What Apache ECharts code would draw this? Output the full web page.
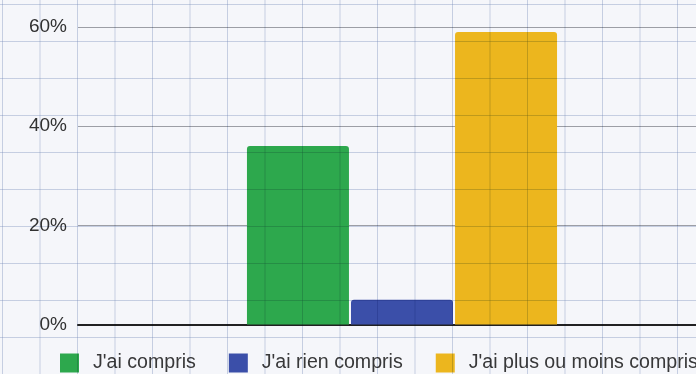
<!DOCTYPE html>
<html>
<head>
<meta charset="utf-8">
<script src="https://cdn.jsdelivr.net/npm/echarts@6/dist/echarts.min.js"></script>
<style>
  html, body { margin: 0; padding: 0; }
  body {
    width: 696px; height: 374px; overflow: hidden;
    background-color: #f5f6fa;
    /* squared paper */
    background-image:
      linear-gradient(to right, rgba(120, 140, 185, 0.38) 1px, transparent 1px),
      linear-gradient(to bottom, rgba(120, 140, 185, 0.38) 1px, transparent 1px);
    background-size: 37.5px 37px;
    background-position: 2px 4px;
  }
  /* the plot runs past the right edge of the page */
  #chart { width: 726px; height: 374px; mix-blend-mode: multiply; }
</style>
</head>
<body>
<div id="chart"></div>
<script>
// Survey answers, share of responses in percent
const categories = ['Réponses'];
const seriesNames = ["J'ai compris", "J'ai rien compris", "J'ai plus ou moins compris"];
const compris = [36];
const rienCompris = [5];
const plusOuMoins = [59];
const yTicks = [0, 20, 40, 60];

const colors = ['#2fae4e', '#3d52ad', '#f6bd1e'];
const values = [compris, rienCompris, plusOuMoins];
const font = "'Liberation Sans', Arial, sans-serif";

const chart = echarts.init(document.getElementById('chart'), null, { renderer: 'canvas' });
chart.setOption({
  animation: false,
  backgroundColor: 'transparent',
  textStyle: { fontFamily: font },
  grid: { left: 78, top: 27, right: 0, bottom: 49.5 },
  legend: {
    data: seriesNames,
    left: 60, top: 353, width: 700,
    padding: 0,
    icon: 'rect',
    itemWidth: 19, itemHeight: 19, itemGap: 33,
    textStyle: { fontSize: 19.6, color: '#3a3a3a', padding: [0, 0, 0, 9], fontFamily: font }
  },
  xAxis: {
    type: 'category',
    data: categories,
    axisLine: { lineStyle: { color: '#222', width: 2 } },
    axisTick: { show: false },
    axisLabel: { show: false },
    splitLine: { show: false }
  },
  yAxis: {
    type: 'value',
    min: yTicks[0], max: yTicks[yTicks.length - 1], interval: 20,
    axisLine: { show: false },
    axisTick: { show: false },
    axisLabel: { formatter: '{value}%', fontSize: 19, color: '#333', margin: 11, fontFamily: font },
    splitLine: { lineStyle: { color: '#a2a4a8', width: 1 } }
  },
  series: seriesNames.map((name, i) => ({
    name,
    type: 'bar',
    data: values[i],
    barWidth: 102,
    barGap: '2%',
    itemStyle: { color: colors[i], borderRadius: [3, 3, 0, 0] },
    z: 3
  }))
});
</script>
</body>
</html>
